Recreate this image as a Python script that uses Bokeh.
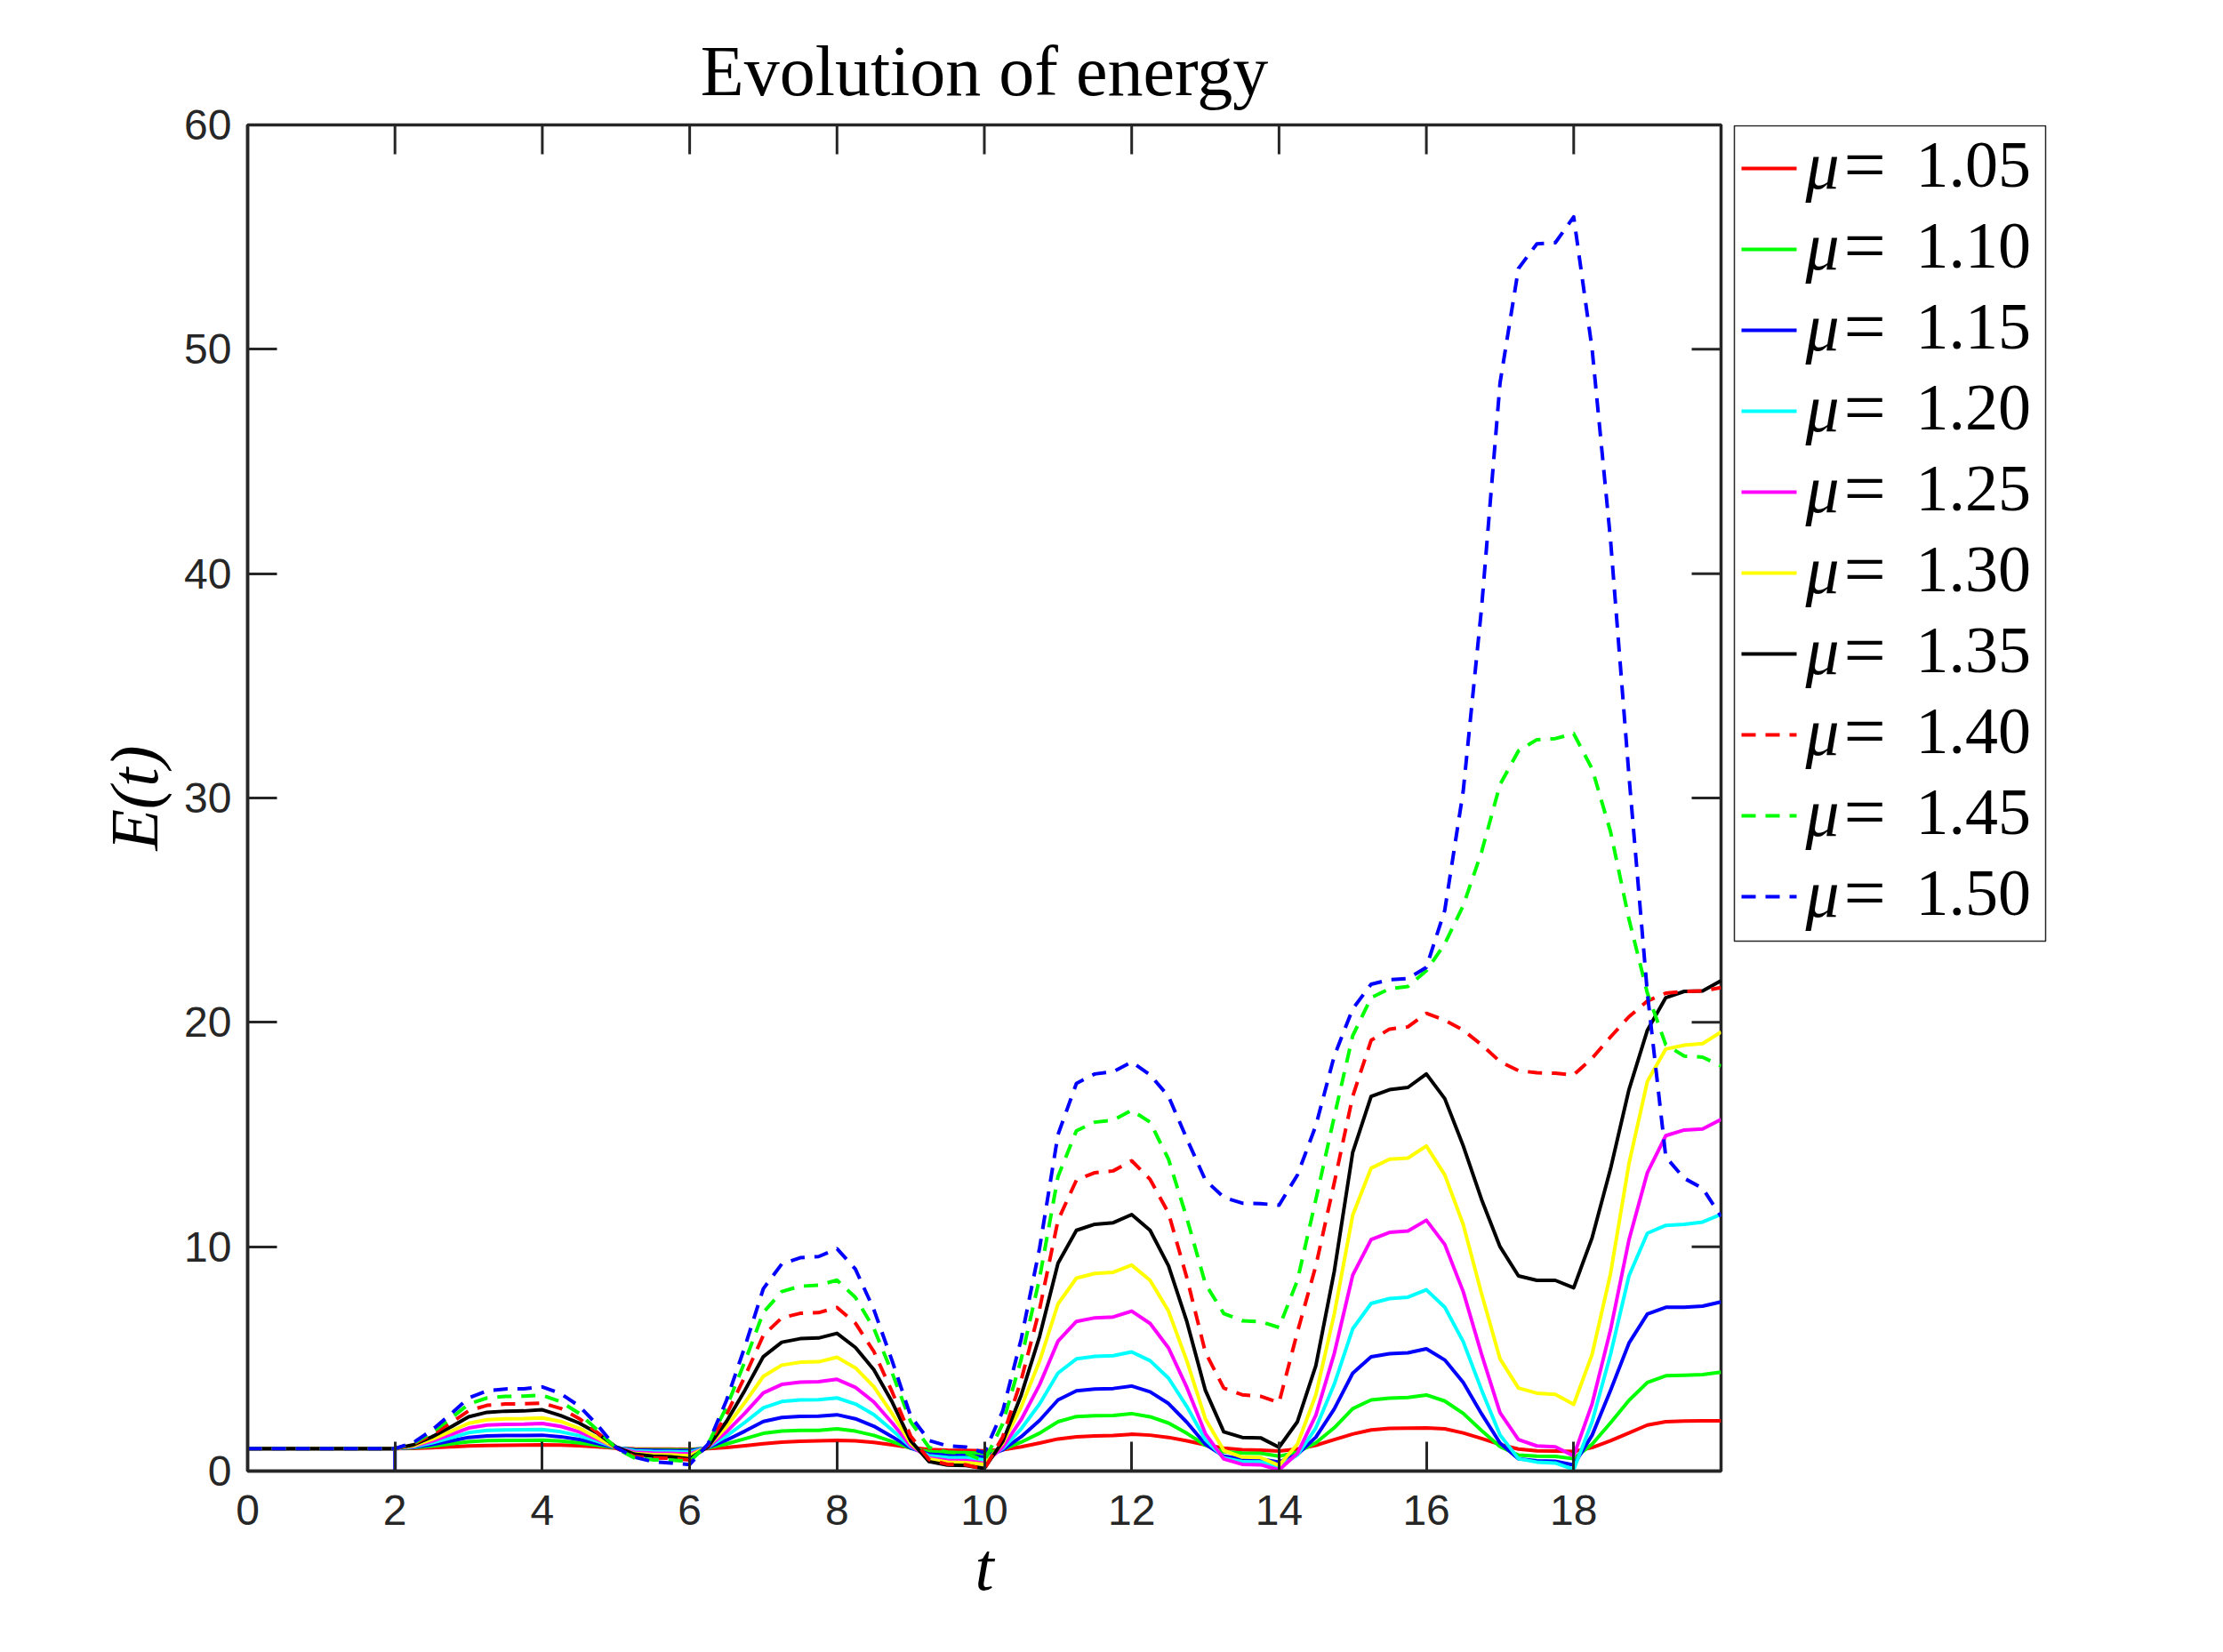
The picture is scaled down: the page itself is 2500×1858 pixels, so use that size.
from bokeh.plotting import figure
from bokeh.models import Range1d, FixedTicker
from bokeh.layouts import row
from bokeh.embed import file_html
from bokeh.resources import INLINE
from bokeh.core.properties import value

# ---------------- data ----------------
T = [0, 2, 2.25, 2.5, 2.75, 3, 3.25, 3.5, 3.75, 4, 4.25, 4.5, 4.75, 5, 5.25, 5.5, 5.75, 6,
     6.25, 6.5, 6.75, 7, 7.25, 7.5, 7.75, 8, 8.25, 8.5, 8.75, 9, 9.25, 9.5, 9.75, 10,
     10.25, 10.5, 10.75, 11, 11.25, 11.5, 11.75, 12, 12.25, 12.5, 12.75, 13, 13.25, 13.5, 13.75, 14,
     14.25, 14.5, 14.75, 15, 15.25, 15.5, 15.75, 16, 16.25, 16.5, 16.75, 17, 17.25, 17.5, 17.75, 18,
     18.25, 18.5, 18.75, 19, 19.25, 19.5, 19.75, 20]

MU = [1.05, 1.10, 1.15, 1.20, 1.25, 1.30, 1.35, 1.40, 1.45, 1.50]

E105 = [1, 1,
        1.01, 1.04, 1.08, 1.12, 1.14, 1.15, 1.16, 1.17,
        1.16, 1.13, 1.08, 1.02, 0.99, 0.98, 0.98, 0.97,
        1.0, 1.05, 1.13, 1.22, 1.29, 1.33, 1.35, 1.37,
        1.35, 1.28, 1.17, 1.05, 0.96, 0.93, 0.92, 0.9,
        0.95, 1.08, 1.25, 1.43, 1.53, 1.57, 1.59, 1.64,
        1.6, 1.5, 1.35, 1.17, 1.02, 0.95, 0.93, 0.89,
        0.98, 1.15, 1.4, 1.65, 1.83, 1.9, 1.91, 1.92,
        1.88, 1.7, 1.45, 1.18, 0.98, 0.9, 0.89, 0.87,
        1.05, 1.35, 1.7, 2.05, 2.2, 2.23, 2.24, 2.24]

E110 = [1, 1,
        1.04, 1.11, 1.21, 1.31, 1.36, 1.37, 1.37, 1.38,
        1.34, 1.26, 1.15, 1.03, 0.96, 0.95, 0.95, 0.94,
        1.03, 1.21, 1.44, 1.68, 1.78, 1.81, 1.81, 1.88,
        1.78, 1.59, 1.31, 1.02, 0.86, 0.83, 0.82, 0.78,
        0.97, 1.29, 1.69, 2.2, 2.43, 2.47, 2.48, 2.56,
        2.42, 2.14, 1.68, 1.15, 0.86, 0.8, 0.79, 0.66,
        0.84, 1.26, 1.93, 2.78, 3.17, 3.25, 3.28, 3.39,
        3.12, 2.57, 1.8, 1.09, 0.71, 0.66, 0.65, 0.55,
        1.2, 2.15, 3.15, 3.95, 4.25, 4.27, 4.3, 4.41]

E115 = [1, 1,
        1.06, 1.18, 1.34, 1.5, 1.57, 1.59, 1.59, 1.6,
        1.53, 1.41, 1.23, 1.04, 0.94, 0.92, 0.91, 0.9,
        1.05, 1.38, 1.78, 2.21, 2.39, 2.44, 2.45, 2.51,
        2.33, 2.0, 1.53, 1.03, 0.75, 0.7, 0.69, 0.62,
        0.95, 1.53, 2.26, 3.17, 3.58, 3.66, 3.68, 3.79,
        3.53, 3.01, 2.17, 1.2, 0.66, 0.55, 0.54, 0.4,
        0.74, 1.51, 2.77, 4.36, 5.09, 5.23, 5.27, 5.45,
        4.95, 3.95, 2.55, 1.25, 0.55, 0.46, 0.44, 0.27,
        1.6, 3.6, 5.7, 7.0, 7.3, 7.3, 7.35, 7.54]

# short vertical spike of the mu=1.15 curve at t=2
SPIKE_T = [2, 2]
SPIKE_E = [0.0, 1.0]

E120 = [1, 1,
        1.08, 1.26, 1.47, 1.71, 1.81, 1.83, 1.84, 1.85,
        1.75, 1.58, 1.32, 1.05, 0.9, 0.87, 0.86, 0.84,
        1.07, 1.56, 2.17, 2.82, 3.1, 3.17, 3.18, 3.26,
        2.99, 2.52, 1.82, 1.08, 0.68, 0.6, 0.59, 0.5,
        1.01, 1.88, 2.99, 4.37, 5.0, 5.11, 5.14, 5.31,
        4.92, 4.14, 2.87, 1.4, 0.59, 0.42, 0.41, 0.2,
        0.72, 1.92, 3.87, 6.34, 7.47, 7.69, 7.75, 8.08,
        7.3, 5.77, 3.61, 1.61, 0.55, 0.4, 0.36, 0.07,
        2.2, 5.2, 8.7, 10.6, 10.95, 11.0, 11.1, 11.44]

E125 = [1, 1,
        1.11, 1.33, 1.62, 1.92, 2.05, 2.08, 2.09, 2.12,
        1.99, 1.75, 1.41, 1.04, 0.84, 0.8, 0.79, 0.76,
        1.08, 1.75, 2.58, 3.48, 3.86, 3.96, 3.98, 4.09,
        3.73, 3.08, 2.14, 1.13, 0.59, 0.48, 0.47, 0.35,
        1.06, 2.29, 3.85, 5.79, 6.67, 6.83, 6.87, 7.13,
        6.58, 5.49, 3.72, 1.67, 0.54, 0.3, 0.28, 0.05,
        0.79, 2.49, 5.24, 8.73, 10.32, 10.64, 10.7, 11.18,
        10.1, 8.0, 5.2, 2.6, 1.4, 1.12, 1.08, 0.68,
        3.0, 6.3, 10.3, 13.3, 14.95, 15.2, 15.25, 15.67]

E130 = [1, 1,
        1.13, 1.41, 1.76, 2.13, 2.29, 2.33, 2.34, 2.37,
        2.21, 1.91, 1.48, 1.03, 0.78, 0.73, 0.72, 0.68,
        1.1, 1.97, 3.06, 4.22, 4.72, 4.85, 4.87, 5.07,
        4.6, 3.76, 2.55, 1.24, 0.54, 0.4, 0.38, 0.3,
        1.24, 2.85, 4.9, 7.45, 8.6, 8.81, 8.86, 9.18,
        8.5, 7.13, 4.9, 2.33, 0.92, 0.62, 0.6, 0.25,
        1.2, 3.4, 7.0, 11.4, 13.5, 13.9, 13.95, 14.49,
        13.2, 11.0, 7.9, 5.0, 3.7, 3.47, 3.42, 2.97,
        5.2, 8.8, 13.7, 17.37, 18.81, 18.98, 19.05, 19.57]

E135 = [1, 1,
        1.17, 1.52, 1.95, 2.42, 2.62, 2.67, 2.68, 2.73,
        2.47, 2.14, 1.68, 1.08, 0.75, 0.66, 0.63, 0.55,
        1.09, 2.21, 3.6, 5.1, 5.74, 5.9, 5.93, 6.14,
        5.51, 4.52, 3.07, 1.35, 0.42, 0.27, 0.25, 0.12,
        1.32, 3.38, 6.0, 9.26, 10.73, 11.0, 11.07, 11.43,
        10.73, 9.15, 6.65, 3.6, 1.75, 1.5, 1.48, 1.06,
        2.2, 4.7, 8.9, 14.2, 16.7, 17.0, 17.1, 17.7,
        16.6, 14.5, 12.1, 10.0, 8.7, 8.5, 8.5, 8.17,
        10.4, 13.47, 17.0, 19.65, 21.1, 21.38, 21.4, 21.86]

E140 = [1, 1,
        1.2, 1.62, 2.13, 2.69, 2.93, 2.99, 3.0, 3.03,
        2.79, 2.34, 1.71, 1.02, 0.65, 0.58, 0.57, 0.5,
        1.15, 2.52, 4.22, 6.05, 6.83, 7.03, 7.06, 7.29,
        6.59, 5.33, 3.52, 1.56, 0.51, 0.3, 0.28, 0.08,
        1.53, 4.05, 7.22, 11.18, 12.97, 13.3, 13.38, 13.83,
        13.0, 11.5, 8.6, 5.3, 3.7, 3.4, 3.33, 3.05,
        6.2, 9.15, 12.85, 16.7, 19.2, 19.7, 19.8, 20.4,
        20.1, 19.65, 19.0, 18.25, 17.85, 17.75, 17.73, 17.66,
        18.4, 19.35, 20.25, 20.95, 21.3, 21.38, 21.4, 21.55]

E145 = [1, 1,
        1.23, 1.72, 2.33, 2.98, 3.26, 3.33, 3.34, 3.38,
        3.09, 2.57, 1.82, 1.02, 0.59, 0.5, 0.49, 0.43,
        1.21, 2.85, 4.88, 7.07, 8.0, 8.24, 8.28, 8.51,
        7.74, 6.36, 4.36, 2.2, 1.05, 0.84, 0.8, 0.45,
        2.11, 4.98, 8.6, 13.13, 15.17, 15.55, 15.64, 16.08,
        15.55, 13.9, 11.26, 8.35, 7.02, 6.7, 6.66, 6.4,
        8.5, 12.1, 15.8, 19.4, 21.1, 21.5, 21.6, 22.3,
        23.5, 25.2, 27.6, 30.6, 32.1, 32.6, 32.65, 32.87,
        31.3, 28.5, 24.6, 21.3, 19.0, 18.5, 18.45, 18.05]

E150 = [1, 1,
        1.27, 1.82, 2.52, 3.26, 3.58, 3.66, 3.67, 3.75,
        3.45, 2.9, 2.05, 1.05, 0.62, 0.42, 0.36, 0.29,
        1.21, 3.15, 5.55, 8.13, 9.23, 9.51, 9.56, 9.91,
        9.0, 7.2, 4.9, 2.45, 1.36, 1.12, 1.07, 0.82,
        2.68, 5.88, 9.94, 15.0, 17.28, 17.7, 17.8, 18.23,
        17.66, 16.7, 14.8, 12.97, 12.2, 11.94, 11.92, 11.85,
        13.2, 15.4, 18.5, 20.6, 21.7, 21.9, 21.95, 22.45,
        25.0, 30.3, 38.5, 48.5, 53.6, 54.7, 54.75, 55.9,
        50.0, 41.5, 31.0, 21.3, 14.0, 13.05, 12.6, 11.35]

COLORS = ["#FF0000", "#00FF00", "#0000FF", "#00FFFF", "#FF00FF",
          "#FFFF00", "#000000", "#FF0000", "#00FF00", "#0000FF"]
DASHED = [False, False, False, False, False, False, False, True, True, True]

X_TICKS = [0, 2, 4, 6, 8, 10, 12, 14, 16, 18]
Y_TICKS = [0, 10, 20, 30, 40, 50, 60]
X_MIN, X_MAX = 0, 20
Y_MIN, Y_MAX = 0, 60

AX = "#262626"
DASH = "16 11"
LW = 4
TICK_LEN = 33

# ---------------- main figure ----------------
BL, BR, BT, BB = 278, 10, 140, 194
FW, FH = 1657, 1514
W, H = BL + FW + BR, BT + FH + BB

p = figure(width=W, height=H, x_range=Range1d(X_MIN, X_MAX), y_range=Range1d(Y_MIN, Y_MAX),
           output_backend="svg", toolbar_location=None,
           min_border_left=BL, min_border_right=BR, min_border_top=BT, min_border_bottom=BB,
           background_fill_color="white", border_fill_color="white")
p.grid.visible = False
p.outline_line_color = AX
p.outline_line_width = 3.5

p.title.text = "Evolution of energy"
p.title.text_font = "Liberation Serif"
p.title.text_font_style = "normal"
p.title.text_font_size = "80px"
p.title.text_color = "#000000"
p.title.align = "center"
p.title.standoff = 34

xa = p.below[0]
ya = p.left[0]
for ax, ticks in ((xa, X_TICKS), (ya, Y_TICKS)):
    ax.ticker = FixedTicker(ticks=ticks)
    ax.major_tick_in = TICK_LEN
    ax.major_tick_out = 0
    ax.minor_tick_line_color = None
    ax.major_tick_line_width = 3
    ax.major_tick_line_color = AX
    ax.axis_line_color = AX
    ax.axis_line_width = 3.5
    ax.major_label_text_font = "Liberation Sans"
    ax.major_label_text_font_size = "48px"
    ax.major_label_text_color = AX
    ax.axis_label_text_font = "Liberation Serif"
    ax.axis_label_text_font_style = "italic"
    ax.axis_label_text_font_size = "76px"
    ax.axis_label_text_color = "#000000"
xa.major_label_standoff = 27
ya.major_label_standoff = 18
xa.axis_label = "t"
xa.axis_label_standoff = 2
ya.axis_label = "E(t)"
ya.axis_label_standoff = 11

# ticks on the top and right edges of the box (same tick values, inward)
dy_tick = TICK_LEN * (Y_MAX - Y_MIN) / FH
dx_tick = TICK_LEN * (X_MAX - X_MIN) / FW
p.segment(x0=X_TICKS, x1=X_TICKS, y0=[Y_MAX] * len(X_TICKS), y1=[Y_MAX - dy_tick] * len(X_TICKS),
          line_color=AX, line_width=3)
p.segment(x0=[X_MAX] * len(Y_TICKS), x1=[X_MAX - dx_tick] * len(Y_TICKS), y0=Y_TICKS, y1=Y_TICKS,
          line_color=AX, line_width=3)

series = [E105, E110, E115, E120, E125, E130, E135, E140, E145, E150]
for i, (ys, col, dashed) in enumerate(zip(series, COLORS, DASHED)):
    xs = T
    yv = ys
    if i == 2:
        xs = T[:2] + SPIKE_T + T[2:]
        yv = ys[:2] + SPIKE_E + ys[2:]
    p.line(xs, yv, line_color=col, line_width=LW, line_join="round",
           line_dash=DASH if dashed else "solid")

# ---------------- legend (separate panel to the right, page-pixel coordinates) ----------------
LG_W = 380
X0 = W
lg = figure(width=LG_W, height=H, x_range=Range1d(X0, X0 + LG_W), y_range=Range1d(BT + FH, BT),
            x_axis_type=None, y_axis_type=None, output_backend="svg", toolbar_location=None,
            min_border_left=0, min_border_right=0, min_border_top=BT, min_border_bottom=BB,
            outline_line_color=None, background_fill_color="white", border_fill_color="white")
lg.grid.visible = False
lg.quad(left=[1950], right=[2300], top=[141], bottom=[1058], fill_color="white",
        line_color=AX, line_width=1.5)

row_y = [189 + 91 * i for i in range(len(MU))]
for i, (mu, col, dashed) in enumerate(zip(MU, COLORS, DASHED)):
    lg.line([1958, 2020], [row_y[i], row_y[i]], line_color=col, line_width=LW,
            line_dash=DASH if dashed else "solid")

text_y = [y - 4 for y in row_y]
n = len(MU)
lg.text(x=[2030] * n, y=text_y, text=["μ"] * n,
        text_font=value("Liberation Serif"), text_font_style="italic",
        text_font_size="76px", text_color="#000000", text_baseline="middle")
lg.text(x=[2073] * n, y=text_y, text=["="] * n,
        text_font=value("Liberation Serif"), text_font_style="normal",
        text_font_size="84px", text_color="#000000", text_baseline="middle")
lg.text(x=[2154] * n, y=text_y, text=["%.2f" % m for m in MU],
        text_font=value("Liberation Serif"), text_font_style="normal",
        text_font_size="74px", text_color="#000000", text_baseline="middle")

layout = row(p, lg)
open("out.html", "w").write(file_html(layout, INLINE))
